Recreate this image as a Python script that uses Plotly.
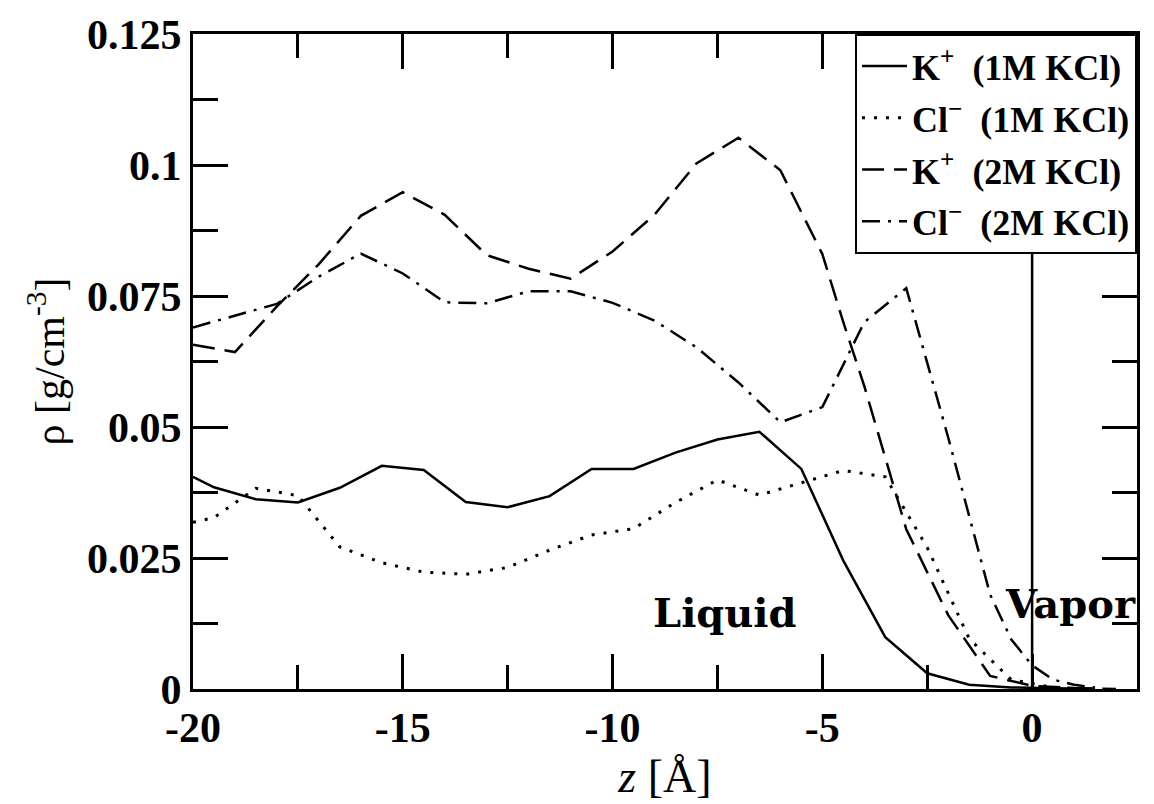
import plotly.graph_objects as go

# ---- data ----
x_k1m = [-20, -19.5, -18.5, -17.5, -16.5, -15.5, -14.5, -13.5, -12.5, -11.5, -10.5,
         -9.5, -8.5, -7.5, -6.5, -5.5, -4.5, -3.5, -2.5, -1.5, -0.5, 0.5, 1.5]
k_1m = [0.0405, 0.0385, 0.0362, 0.0356, 0.0384, 0.0426, 0.0418, 0.0357, 0.0347, 0.0368,
        0.0420, 0.0420, 0.0451, 0.0476, 0.0491, 0.0420, 0.0245, 0.0099, 0.0030, 0.0008,
        0.0003, 0.0001, 0.0]

x_cl1m = [-20, -19.5, -18.5, -17.5, -16.5, -15.5, -14.5, -13.5, -12.5, -11.5, -10.5,
          -9.5, -8.5, -7.5, -6.5, -5.5, -4.5, -3.5, -2.5, -1.5, -0.5, 0.5, 1.5]
cl_1m = [0.0318, 0.0327, 0.0383, 0.0369, 0.0271, 0.0241, 0.0223, 0.0219, 0.0232, 0.0265,
         0.0294, 0.0306, 0.0356, 0.0399, 0.0370, 0.0394, 0.0417, 0.0405, 0.0270, 0.0096,
         0.0018, 0.0003, 0.0]

x_k2m = [-20, -19, -18, -17, -16, -15, -14, -13, -12, -11, -10, -9, -8, -7, -6, -5,
         -4.5, -4, -3, -2, -1, 0, 1, 2]
k_2m = [0.0657, 0.0643, 0.0730, 0.0811, 0.0903, 0.0948, 0.0905, 0.0828, 0.0802, 0.0783,
        0.0835, 0.0905, 0.1003, 0.1052, 0.0990, 0.0830, 0.0700, 0.0578, 0.0305, 0.0141,
        0.0025, 0.0006, 0.0002, 0.0]

x_cl2m = [-20, -19, -18, -17, -16, -15, -14, -13, -12, -11, -10, -9, -8, -7, -6, -5,
          -4, -3, -2, -1, -0.5, 0, 0.5, 1, 1.5]
cl_2m = [0.0690, 0.0713, 0.0735, 0.0787, 0.0831, 0.0793, 0.0738, 0.0736, 0.0759, 0.0759,
         0.0737, 0.0703, 0.0652, 0.0585, 0.0509, 0.0538, 0.0700, 0.0765, 0.0480, 0.0180,
         0.0095, 0.0045, 0.0018, 0.0008, 0.0003]

series_names = ["K<sup>+</sup>  (1M KCl)", "Cl<sup>\u2212</sup>  (1M KCl)",
                "K<sup>+</sup>  (2M KCl)", "Cl<sup>\u2212</sup>  (2M KCl)"]

x_tickvals = [-20, -15, -10, -5, 0]
x_ticktext = ["-20", "-15", "-10", "-5", "0"]
x_minor = [-17.5, -12.5, -7.5, -2.5]
y_tickvals = [0, 0.025, 0.05, 0.075, 0.1, 0.125]
y_ticktext = ["0", "0.025", "0.05", "0.075", "0.1", "0.125"]
y_minor = [0.0125, 0.0375, 0.0625, 0.0875, 0.1125]

region_labels = ["Liquid", "Vapor"]
region_x = [-7.32, -0.69]
region_y = [0.0146, 0.0163]

# ---- figure ----
dashes = ["solid", "3px,9px", "22px,10px", "18px,8px,3px,8px"]
xs = [x_k1m, x_cl1m, x_k2m, x_cl2m]
ys = [k_1m, cl_1m, k_2m, cl_2m]

fig = go.Figure()
for i in range(4):
    fig.add_trace(go.Scatter(
        x=xs[i], y=ys[i], mode="lines", name=series_names[i],
        legendgroup="g%d" % i,
        line=dict(color="black", width=2.5 if i != 1 else 3, dash=dashes[i]),
    ))

fig.add_shape(type="line", xref="x", yref="paper", x0=0, x1=0, y0=0, y1=1,
              line=dict(color="black", width=2.5), layer="below")

fig.add_annotation(x=region_x[0], y=region_y[0], text="<b>" + region_labels[0] + "</b>",
                   showarrow=False, xanchor="center", yanchor="middle",
                   font=dict(family="DejaVu Serif", size=40, color="black"))
fig.add_annotation(x=region_x[1], y=region_y[1], text="<b>" + region_labels[1] + "</b>",
                   showarrow=False, xanchor="left", yanchor="middle",
                   font=dict(family="DejaVu Serif", size=40, color="black"))

axis_common = dict(showline=True, linewidth=3, linecolor="black", mirror="ticks",
                   ticks="inside", ticklen=35, tickwidth=3, tickcolor="black",
                   showgrid=False, zeroline=False,
                   tickfont=dict(family="Liberation Serif", size=42, color="black", weight="bold"))

fig.update_xaxes(range=[-20, 2.5], tickmode="array", tickvals=x_tickvals, ticktext=x_ticktext,
                 minor=dict(tickmode="array", tickvals=x_minor, ticks="inside", ticklen=24,
                            tickwidth=3, tickcolor="black", showgrid=False),
                 title=dict(text="<i>z</i> [Å]", font=dict(family="Liberation Serif", size=46, color="black"),
                            standoff=4),
                 **axis_common)
fig.update_yaxes(range=[0, 0.125], tickmode="array", tickvals=y_tickvals, ticktext=y_ticktext,
                 minor=dict(tickmode="array", tickvals=y_minor, ticks="inside", ticklen=25,
                            tickwidth=3, tickcolor="black", showgrid=False),
                 title=dict(text="\u03c1 [g/cm<sup>-3</sup>]",
                            font=dict(family="Liberation Serif", size=42, color="black"),
                            standoff=10),
                 **axis_common)

fig.update_layout(
    width=1154, height=804,
    margin=dict(l=193, r=17, t=29, b=115),
    paper_bgcolor="white", plot_bgcolor="white",
    font=dict(family="Liberation Serif", color="black"),
    showlegend=True,
    legend=dict(x=1, y=1, xanchor="right", yanchor="top", bgcolor="white",
                bordercolor="black", borderwidth=2, tracegroupgap=2,
                font=dict(family="Liberation Serif", size=36, color="black", weight="bold"),
                itemwidth=45),
)

fig.write_html("out.html", config={"displayModeBar": False},
               post_script="document.body.style.margin='0';")
